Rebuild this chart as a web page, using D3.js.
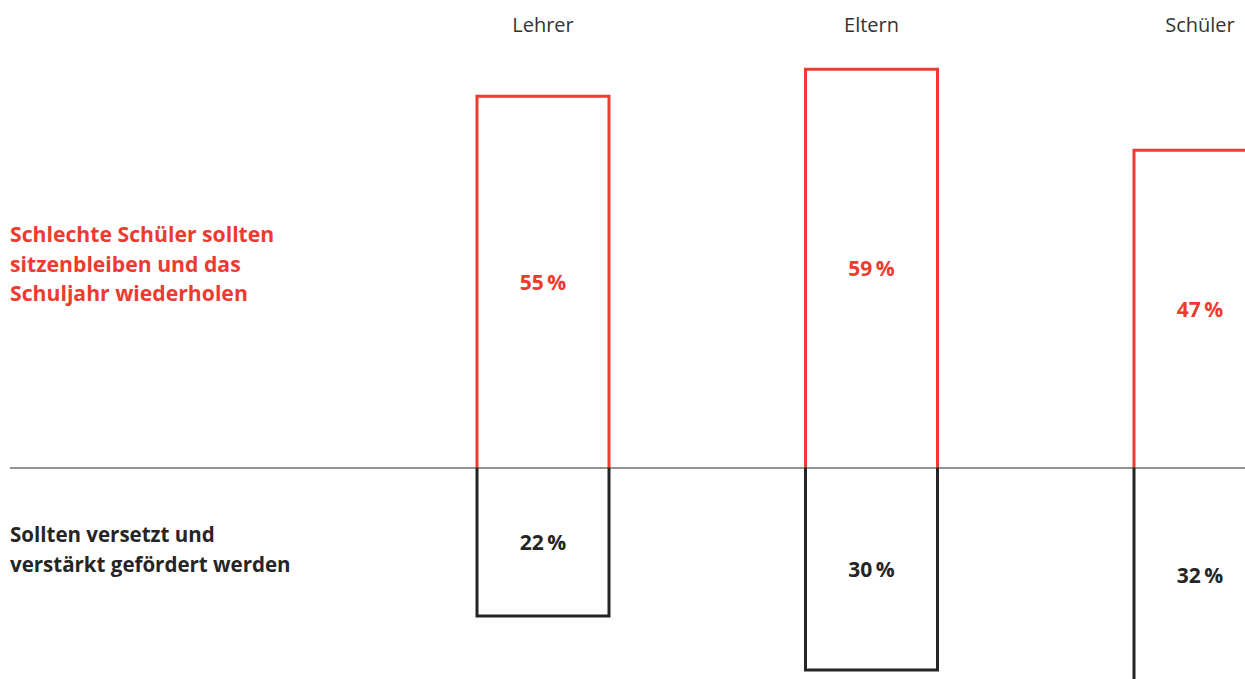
<!DOCTYPE html>
<html>
<head>
<meta charset="utf-8">
<script src="https://cdn.jsdelivr.net/npm/d3@7"></script>
<style>
  html, body { margin: 0; padding: 0; background: #fff; }
  svg { display: block; }
  text { font-family: "Open Sans", "Noto Sans", sans-serif; }
</style>
</head>
<body>
<svg id="chart" width="1245" height="679"></svg>
<script>
// Umfragegruppen
const groups = ["Lehrer", "Eltern", "Schüler"];
// Anteil: schlechte Schüler sollten sitzenbleiben (%)
const repeatShare = [55, 59, 47];
// Anteil: sollten versetzt und gefördert werden (%)
const promoteShare = [22, 30, 32];

const repeatLabel = ["Schlechte Schüler sollten", "sitzenbleiben und das", "Schuljahr wiederholen"];
const promoteLabel = ["Sollten versetzt und", "verstärkt gefördert werden"];

const RED = "#ee3a2f";
const DARK = "#252525";

const svg = d3.select("#chart");
const baseY = 468;

const x = d3.scalePoint().domain(groups).range([543, 1200]);
const y = d3.scaleLinear().domain([0, 100]).range([baseY, baseY - 676]);
const yDown = d3.scaleLinear().domain([0, 100]).range([baseY, baseY + 673]);
const barW = 132;

// Spaltenköpfe
svg.append("g").selectAll("text").data(groups).join("text")
  .attr("x", d => x(d)).attr("y", 32)
  .attr("text-anchor", "middle")
  .attr("font-size", 20).attr("fill", "#333")
  .text(d => d);

// Säulen nach oben (rot), unten offen
svg.append("g").selectAll("path").data(groups).join("path")
  .attr("d", (d, i) => {
    const l = x(d) - barW / 2, r = x(d) + barW / 2, t = y(repeatShare[i]);
    return `M${l},${baseY}V${t}H${r}V${baseY}`;
  })
  .attr("fill", "none").attr("stroke", RED).attr("stroke-width", 3);

// Säulen nach unten (dunkel), oben offen
svg.append("g").selectAll("path").data(groups).join("path")
  .attr("d", (d, i) => {
    const l = x(d) - barW / 2, r = x(d) + barW / 2, b = yDown(promoteShare[i]);
    return `M${l},${baseY}V${b}H${r}V${baseY}`;
  })
  .attr("fill", "none").attr("stroke", DARK).attr("stroke-width", 3);

// Nulllinie
svg.append("line")
  .attr("x1", 10).attr("x2", 1245).attr("y1", baseY).attr("y2", baseY)
  .attr("stroke", "#2a2a2a").attr("stroke-width", 1.2);

// Werte in den Säulen
svg.append("g").selectAll("text").data(groups).join("text")
  .attr("x", d => x(d)).attr("y", (d, i) => (y(repeatShare[i]) + baseY) / 2)
  .attr("dy", "0.36em").attr("text-anchor", "middle")
  .attr("font-size", 21).attr("font-weight", 700).attr("fill", RED)
  .text((d, i) => repeatShare[i] + "\u2009%");

svg.append("g").selectAll("text").data(groups).join("text")
  .attr("x", d => x(d)).attr("y", (d, i) => (yDown(promoteShare[i]) + baseY) / 2)
  .attr("dy", "0.36em").attr("text-anchor", "middle")
  .attr("font-size", 21).attr("font-weight", 700).attr("fill", DARK)
  .text((d, i) => promoteShare[i] + "\u2009%");

// Zeilenbeschriftungen links
svg.append("text").attr("x", 10).attr("y", 242)
  .attr("font-size", 21.2).attr("font-weight", 700).attr("fill", RED)
  .selectAll("tspan").data(repeatLabel).join("tspan")
  .attr("x", 10).attr("dy", (d, i) => i ? 29.5 : 0).text(d => d);

svg.append("text").attr("x", 10).attr("y", 542)
  .attr("font-size", 20.5).attr("font-weight", 700).attr("fill", DARK)
  .selectAll("tspan").data(promoteLabel).join("tspan")
  .attr("x", 10).attr("dy", (d, i) => i ? 30 : 0).text(d => d);
</script>
</body>
</html>
